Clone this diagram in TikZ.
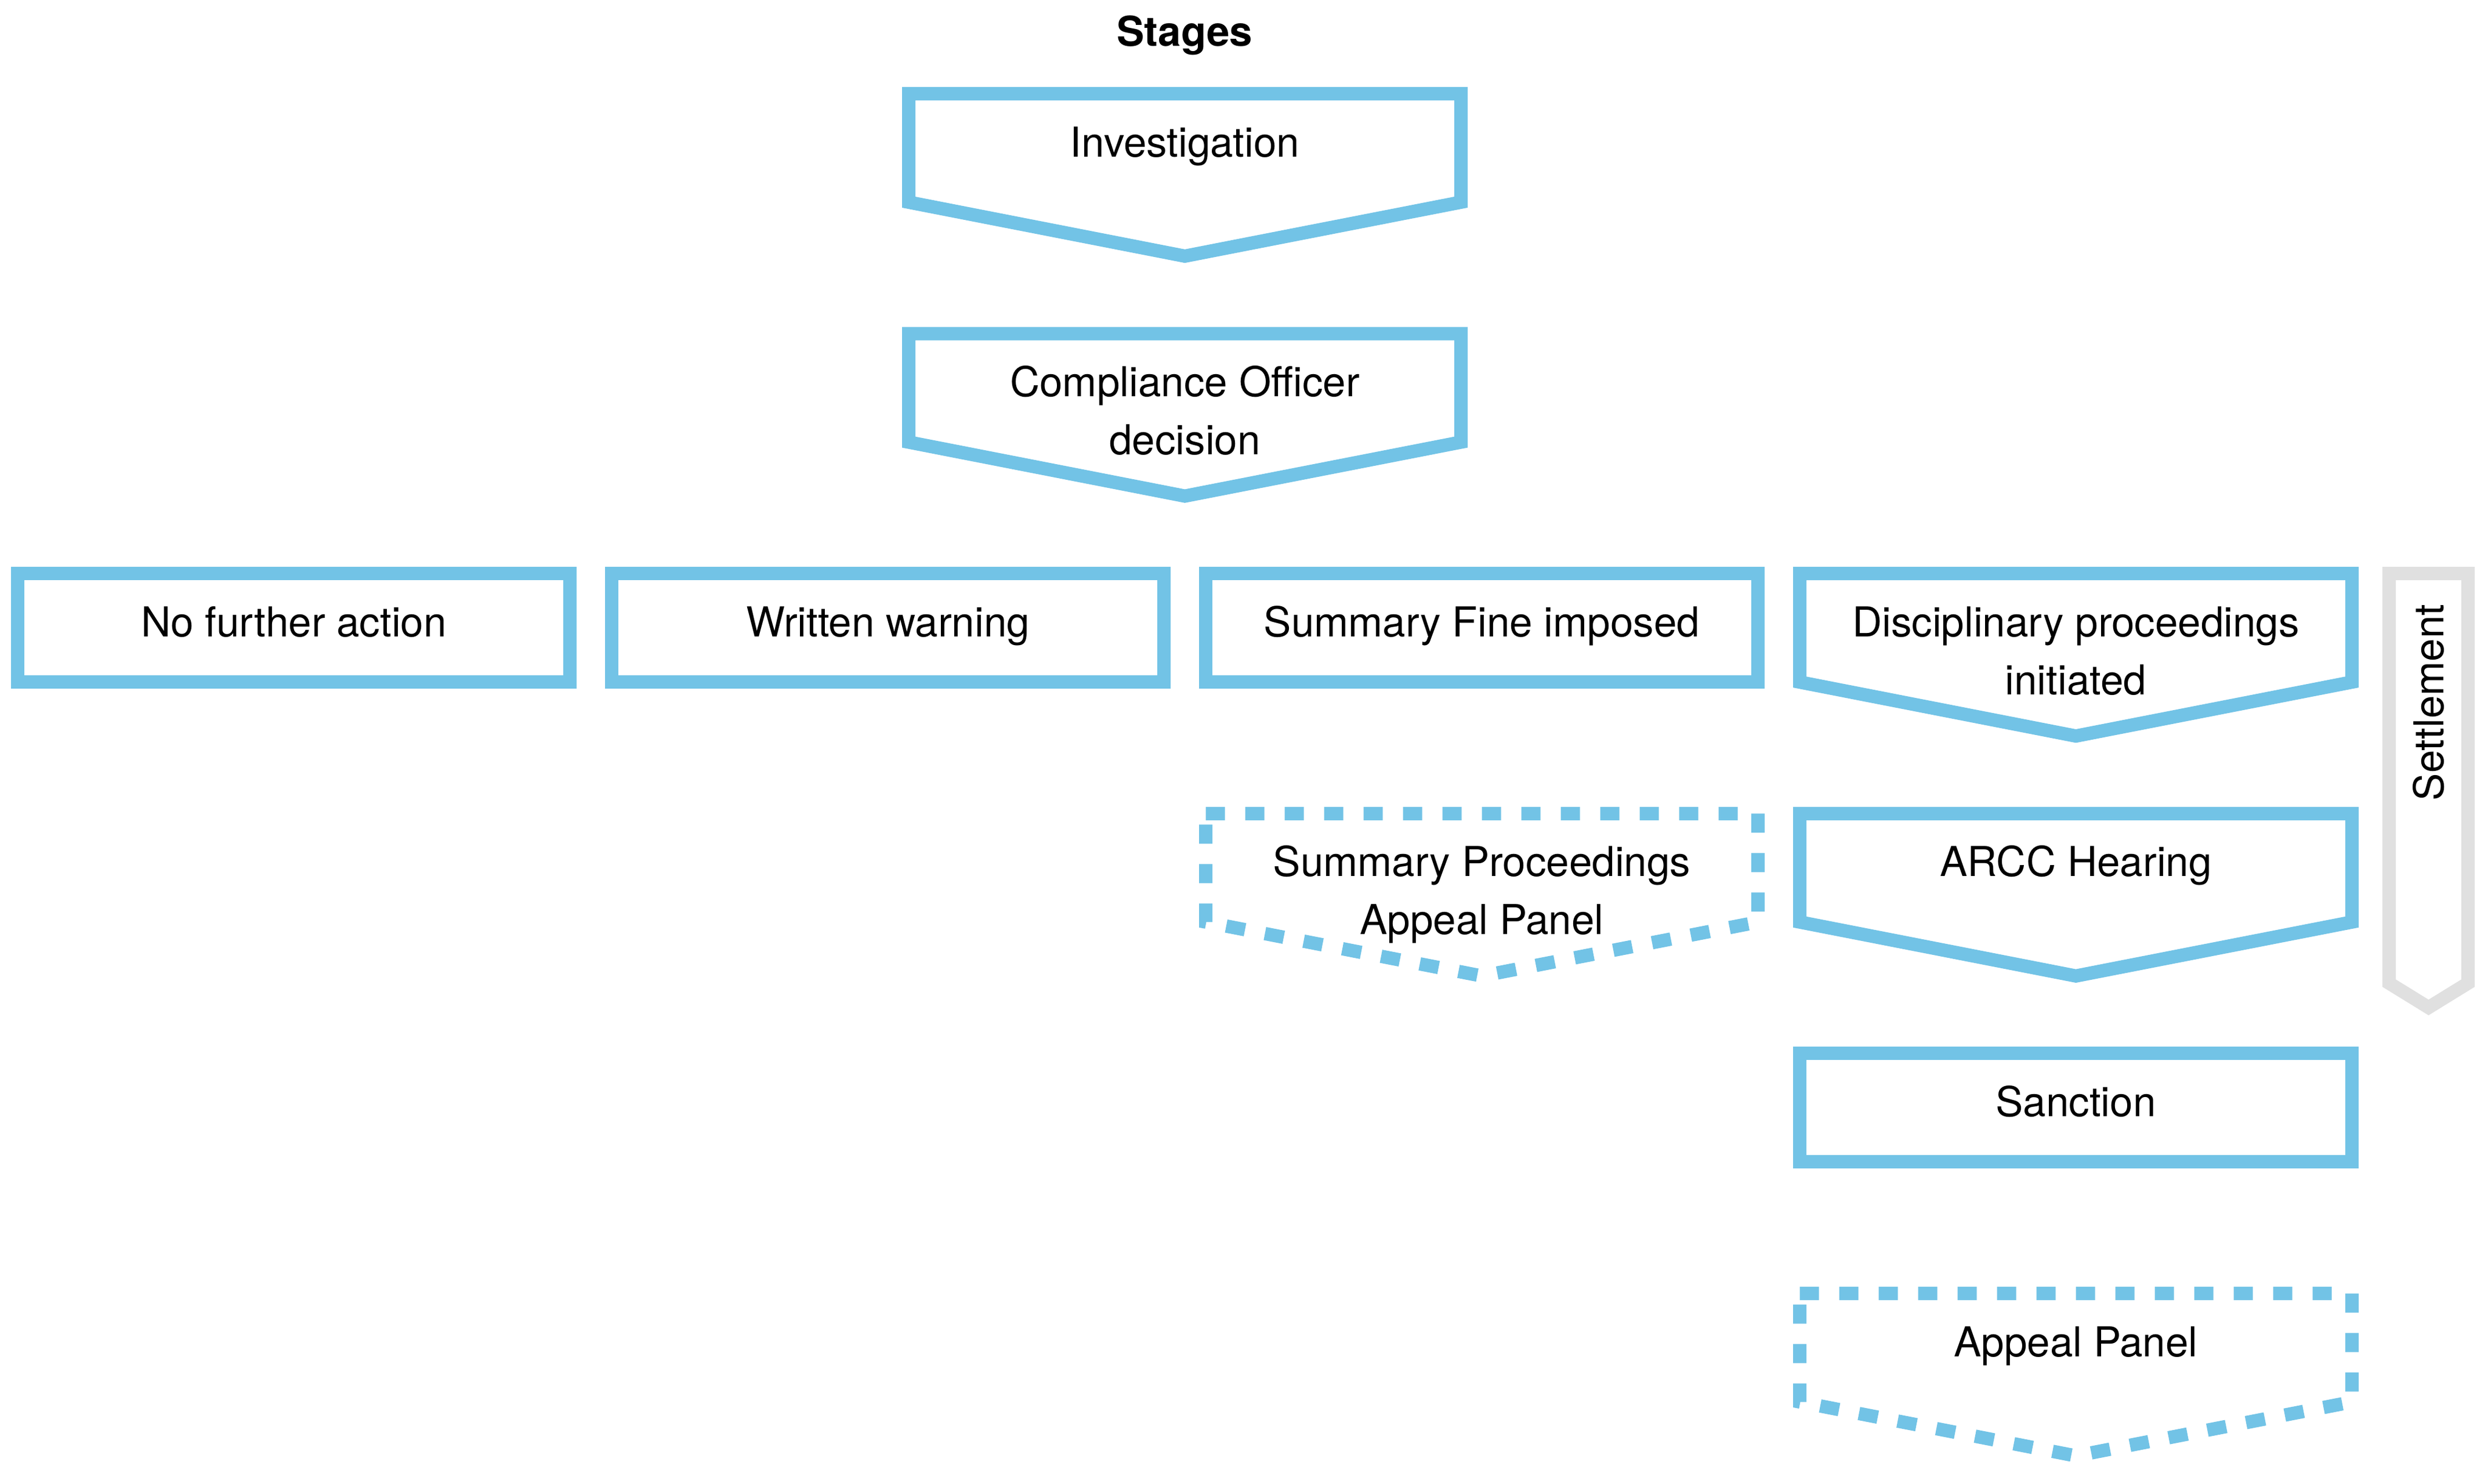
\documentclass[tikz,border=0pt]{standalone}
\usepackage{fontspec}
\setmainfont{TeX Gyre Heros}
\usepackage{tikz}
\usetikzlibrary{calc,positioning}
\definecolor{stageblue}{RGB}{114,195,230}
\definecolor{settlegray}{RGB}{224,224,224}
\newcommand{\twoline}[2]{\begin{tabular}[t]{@{}c@{}}#1\\#2\end{tabular}}

\begin{document}
\begin{tikzpicture}[line width=0.23cm,
    stagefont/.style={font=\fontsize{20.2pt}{28.45pt}\selectfont},
    stagebox/.style={rectangle, minimum width=9.52cm, minimum height=1.87cm, inner sep=0pt, outer sep=0pt,
      stagefont, text height=0.55cm, text depth=0.25cm},
    framed/.style={draw=stageblue},
    optional/.style={dash pattern=on 0.33cm off 0.35cm}]
   \useasboundingbox (0,0) rectangle (42.89,-25.57);
   \node (title) [font=\fontsize{20.2pt}{28.45pt}\selectfont\bfseries, text height=0.55cm, text depth=0.25cm] at (20.425,-0.64) {Stages};
   \begin{scope}[every node/.style={stagebox}]
    \node (inv) at (20.425,-2.55) {Investigation};
    \node (codec) at (20.425,-6.686) {\twoline{Compliance Officer}{decision}};
    \node (nfa) [framed] at (5.065,-10.822) {No further action};
    \node (warn) [framed] at (15.305,-10.822) {Written warning};
    \node (fine) [framed] at (25.545,-10.822) {Summary Fine imposed};
    \node (disc) at (35.785,-10.822) {\twoline{Disciplinary proceedings}{initiated}};
    \node (spap) at (25.545,-14.958) {\twoline{Summary Proceedings}{Appeal Panel}};
    \node (arcc) at (35.785,-14.958) {ARCC Hearing};
    \node (sanc) [framed] at (35.785,-19.094) {Sanction};
    \node (appeal) at (35.785,-23.23) {Appeal Panel};
   \end{scope}
   % pointed stages
   \begin{scope}[stageblue]
    \draw (inv.north west) -- (inv.north east) -- (inv.south east) -- ($(inv.south)+(0,-0.93)$) -- (inv.south west) -- cycle;
    \draw (codec.north west) -- (codec.north east) -- (codec.south east) -- ($(codec.south)+(0,-0.93)$) -- (codec.south west) -- cycle;
    \draw (disc.north west) -- (disc.north east) -- (disc.south east) -- ($(disc.south)+(0,-0.93)$) -- (disc.south west) -- cycle;
    \draw (arcc.north west) -- (arcc.north east) -- (arcc.south east) -- ($(arcc.south)+(0,-0.93)$) -- (arcc.south west) -- cycle;
    \draw [optional] (spap.north west) -- (spap.north east) -- (spap.south east) -- ($(spap.south)+(0,-0.93)$) -- (spap.south west) -- cycle;
    \draw [optional] (appeal.north west) -- (appeal.north east) -- (appeal.south east) -- ($(appeal.south)+(0,-0.93)$) -- (appeal.south west) -- cycle;
   \end{scope}
   % settlement bar
   \node (settle) [rectangle, minimum width=1.36cm, minimum height=7.061cm, inner sep=0pt, outer sep=0pt] at (41.865,-13.416) {};
   \draw [settlegray] (settle.north west) -- (settle.north east) -- (settle.south east) -- ($(settle.south)+(0,-0.419)$) -- (settle.south west) -- cycle;
   \node (settletext) [stagefont, rotate=90, text height=0.51cm, text depth=0pt, inner sep=0pt] at (41.865,-12.11) {Settlement};
\end{tikzpicture}
\end{document}
